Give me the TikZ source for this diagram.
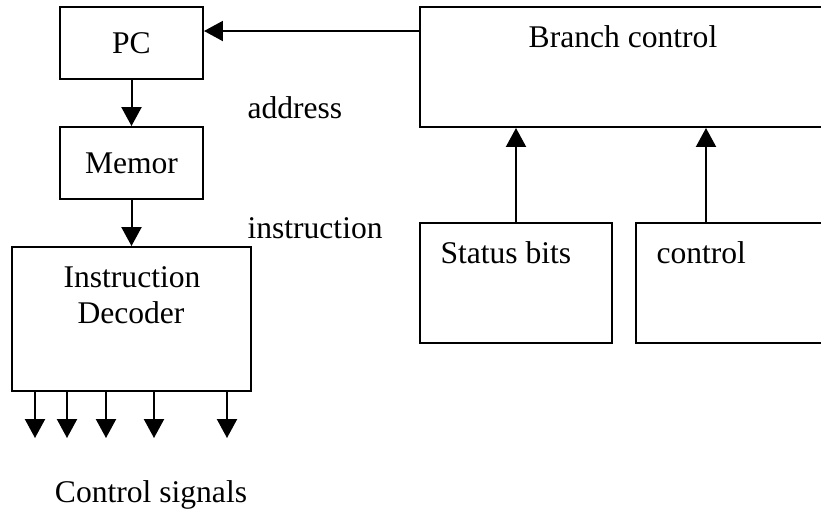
\documentclass[tikz,border=0pt]{standalone}
\usepackage{fontspec}
\setmainfont{Liberation Serif}
\usetikzlibrary{arrows.meta,calc}
\newlength{\pxu}
\setlength{\pxu}{0.38pt}
\tikzset{>={Triangle[width=7.6pt,length=7.2pt]}}
\tikzset{blk/.style={draw,line width=0.76pt,inner sep=0pt},
  sig/.style={->,line width=0.76pt},
  txt/.style={anchor=base,inner sep=0pt}}

\begin{document}
\begin{tikzpicture}[x=\pxu,y=-\pxu,font=\fontsize{12}{13.8}\selectfont]
\useasboundingbox (0,0) rectangle (821,512);
% left column
\node[blk,minimum width=143\pxu,minimum height=72\pxu] (pc) at (131.5,43) {PC};
\node[blk,minimum width=143\pxu,minimum height=72\pxu] (mem) at (131.5,163) {Memor};
\node[blk,minimum width=239\pxu,minimum height=144\pxu] (dec) at (131.5,319) {};
\node[txt] (decl1) at (132,287) {Instruction};
\node[txt] (decl2) at (131,323) {Decoder};
% right side
\node[blk,minimum width=410\pxu,minimum height=120\pxu] (br) at (625,67) {};
\node[blk,minimum width=192\pxu,minimum height=120\pxu] (st) at (516,283) {};
\node[blk,minimum width=194\pxu,minimum height=120\pxu] (ctl) at (733,283) {};
\node[txt] (brname) at (623,47) {Branch control};
\node[txt,anchor=base west] (stname) at (440,263) {Status bits};
\node[txt,anchor=base west] (ctlname) at (656,263) {control};
% free labels
\node[txt,anchor=base west] (addr) at (247,118) {address};
\node[txt,anchor=base west] (instr) at (247,238) {instruction};
\node[txt] (sigs) at (151,502) {Control signals};
% connectors
\coordinate (brout) at ($(br.north west)+(0,25)$);
\coordinate (ctlout) at ($(ctl.north west)+(71,0)$);
\draw[sig] (brout) -- (brout -| pc.east);
\draw[sig] (pc) -- (mem);
\draw[sig] (mem) -- (dec);
\draw[sig] (st) -- (st |- br.south);
\draw[sig] (ctlout) -- (ctlout |- br.south);
\foreach \x in {24,56,95,143,216}
  \draw[sig] ($(dec.south west)+(\x,0)$) -- ++(0,46);
\end{tikzpicture}
\end{document}
